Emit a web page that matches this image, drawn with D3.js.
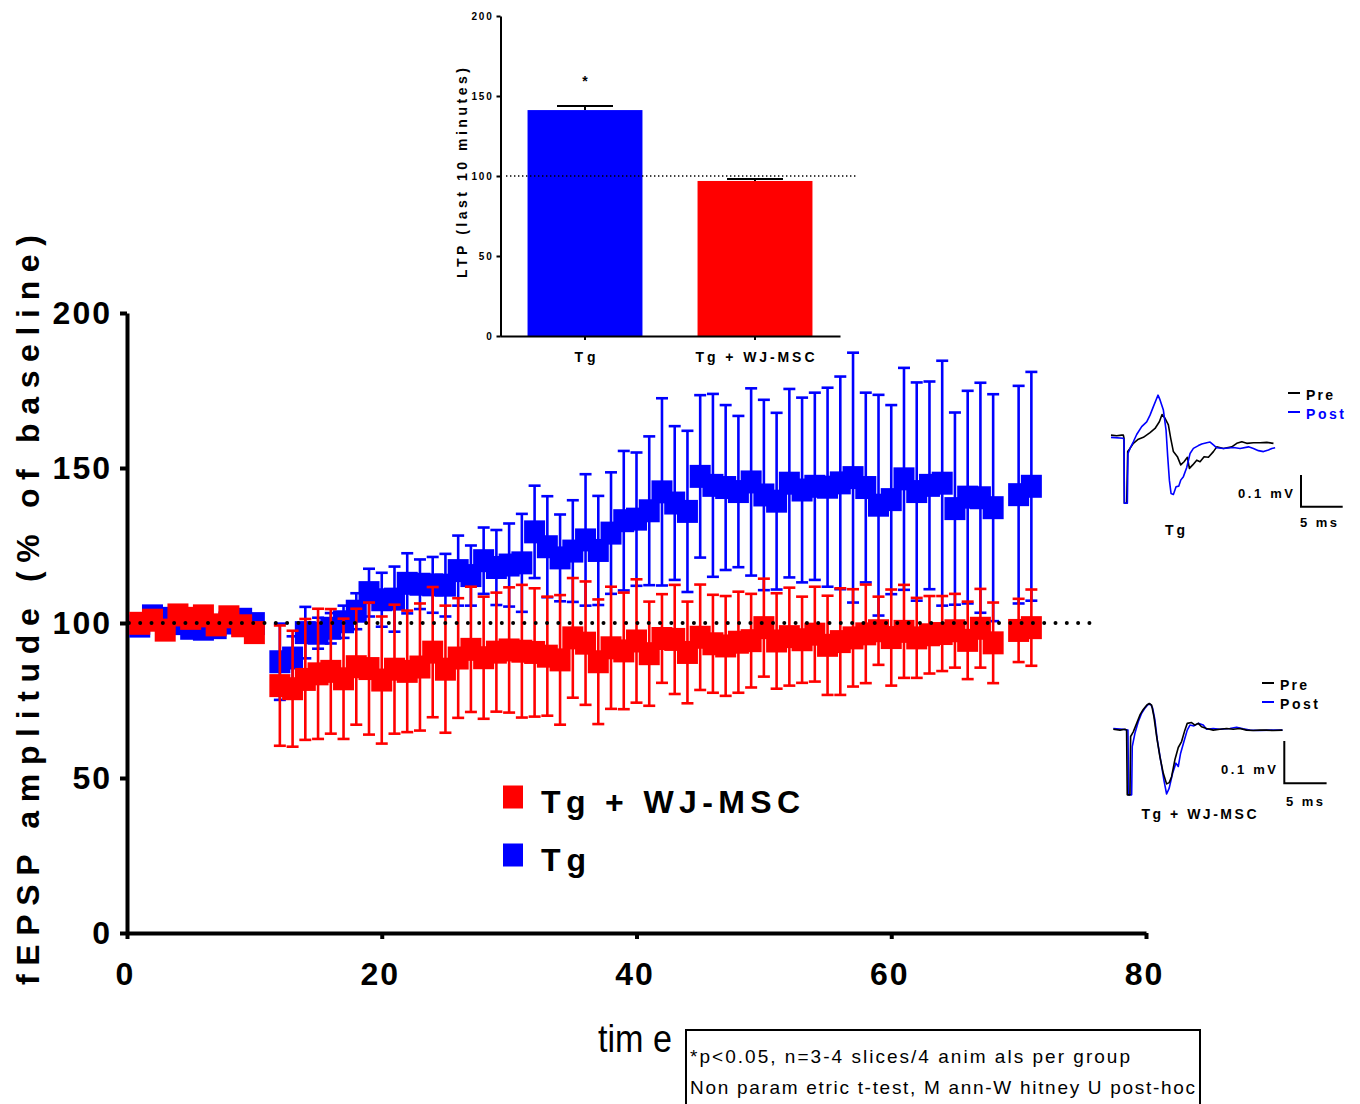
<!DOCTYPE html>
<html><head><meta charset="utf-8">
<script src="https://cdn.jsdelivr.net/npm/d3@7"></script>
<style>body{margin:0;background:#fff}svg{display:block}text{font-family:"Liberation Sans",Arial,sans-serif}</style>
</head><body><svg id="c" width="1360" height="1104"></svg>
<script>
// ---------- DATA ----------
const times = [1,2,3,4,5,6,7,8,9,10,
  12,13,14,15,16,17,18,19,20,21,22,23,24,25,26,27,28,29,30,31,32,33,34,35,36,37,38,39,40,
  41,42,43,44,45,46,47,48,49,50,51,52,53,54,55,56,57,58,59,60,61,62,63,64,65,66,67,68,70,71];
const tgMean = [99,102.3,101.5,99.8,98.3,98,98.5,100,101.2,99.8,
  87.5,88.7,96.9,96.7,98.3,100.4,103.8,109.8,107.5,107.7,112.8,112.5,112.3,112.2,116.9,115.3,120.1,117.9,118.7,119.4,
  129.4,124.6,121,123.2,126.8,123.4,129,133,133.5,136.2,142.3,138.7,136,147.3,144.4,143.7,142.4,145.5,141.3,139.3,
  145.1,142.9,144.1,143.8,145.2,146.9,143.7,138,139.8,146.5,142.4,144.4,145.1,136.9,140.6,140.4,137.2,141.4,144.1];
const tgErr = [2,2,2,2,2,2,2,2,2,2,
  12.3,7,8.3,5,4.9,5.2,5.8,7.7,8.7,10.5,9.7,8,9,10.1,11.3,9.7,10.7,12.1,13.4,15.8,
  14.9,16.3,14,16.4,21.2,17.6,19.6,22.5,21.5,24,30.2,24.8,26,26.2,29.5,26.6,24.4,30.2,30.7,28.5,
  30.4,29.8,30.2,32.1,34.3,40.3,30.6,35.6,30.5,35.8,35.2,33.5,39.5,31,34.3,37.1,36.6,35.1,36.9];
const wjMean = [99.9,100.9,97.7,102.6,101.5,102.3,99.4,102,99.1,96.9,
  79.8,78.8,81.8,83.6,84.4,82,85.9,85.3,81.6,85.1,84.4,85.8,90.6,85.1,88.7,91.5,88.8,90.6,91.3,90.9,
  90.5,89.3,88.1,95.2,93.5,87.5,92,91,94.2,90.1,95,94.7,90.5,95.4,93.3,92.6,93.8,94.3,98.5,94.2,
  95.6,94.6,96.4,92.8,94,95.2,96.5,97.5,95.3,97.3,95.2,96.2,96.6,97.5,94.4,98.3,93.6,97.6,98.5];
const wjErr = [2,2,2,2,2,2,2,2,2,2,
  19.4,18.7,19.5,21,20.1,19.4,18.7,21.3,20.5,20.8,19.6,20.5,21,20.5,19.3,20.2,19.7,19.2,20.2,21.4,
  20.7,19.2,20.9,19.3,19.9,20.1,19.7,18.8,19.9,16.8,14.3,17.6,16.4,17,15.8,16.1,16.3,15.1,15.8,15.4,
  15.8,13.9,15.3,16,17.2,15.7,15.9,11,15.5,15,12.9,12.5,12.1,11.9,12.5,12.7,13,10.2,12.3];
const mainYTicks = [0,50,100,150,200];
const mainXTicks = [0,20,40,60,80];
const baselineValue = 100;

const insetGroups = ["Tg","Tg + WJ-MSC"];
const insetMeans = [141.2,96.9];
const insetErrs = [2.5,1.2];
const insetYTicks = [0,50,100,150,200];

// traces: [ms, mV]
const tgPreTrace = [[0,0.005],[0.68,0.003],[1.28,0.005],[1.48,0.005],[1.56,-0.005],[1.6,-0.21],[1.88,-0.21],[2.0,-0.047],[2.28,-0.037],[2.68,-0.021],[3.28,-0.008],[3.88,-0.002],[4.68,0.013],[5.28,0.026],[5.8,0.047],[6.12,0.070],[6.48,0.058],[6.88,0.037],[7.16,-0.005],[7.48,-0.047],[7.96,-0.063],[8.36,-0.089],[8.76,-0.079],[9.16,-0.065],[9.4,-0.1],[9.8,-0.089],[10.28,-0.074],[10.68,-0.079],[11.16,-0.063],[11.68,-0.065],[12.28,-0.047],[12.68,-0.032],[13.48,-0.037],[14.48,-0.032],[15.08,-0.021],[15.68,-0.016],[16.28,-0.021],[17.08,-0.019],[17.88,-0.019],[18.68,-0.018],[19.48,-0.021]];
const tgPostTrace = [[0,-0.002],[1.48,-0.005],[1.56,-0.011],[1.6,-0.21],[1.96,-0.21],[2.04,-0.053],[2.28,-0.037],[2.68,-0.016],[3.08,0.007],[3.68,0.032],[4.28,0.047],[4.68,0.068],[5.08,0.095],[5.4,0.116],[5.64,0.131],[5.88,0.116],[6.28,0.084],[6.6,0.021],[6.8,-0.063],[7.0,-0.137],[7.2,-0.179],[7.48,-0.182],[7.8,-0.158],[8.12,-0.156],[8.36,-0.137],[8.68,-0.126],[9.08,-0.097],[9.48,-0.053],[9.88,-0.037],[10.48,-0.028],[10.88,-0.023],[11.48,-0.019],[11.88,-0.017],[12.28,-0.026],[12.68,-0.035],[13.48,-0.037],[14.68,-0.034],[15.48,-0.037],[16.48,-0.032],[17.08,-0.037],[17.68,-0.044],[18.28,-0.047],[18.88,-0.042],[19.28,-0.037],[19.68,-0.035]];
const wjPreTrace = [[0,0],[0.79,-0.002],[1.38,0],[1.57,-0.002],[1.65,-0.155],[1.97,-0.155],[2.05,-0.017],[2.36,-0.006],[2.76,0.014],[3.15,0.034],[3.54,0.047],[3.94,0.057],[4.25,0.061],[4.53,0.057],[4.8,0.03],[5.12,-0.017],[5.51,-0.065],[5.91,-0.104],[6.3,-0.129],[6.61,-0.126],[6.89,-0.112],[7.28,-0.072],[7.68,-0.043],[8.07,-0.029],[8.46,-0.002],[8.74,0.014],[9.25,0.016],[9.65,0.01],[10.04,0.014],[10.43,0.006],[11.02,0.002],[11.81,-0.002],[12.6,0],[13.39,0.002],[14.17,0],[14.96,0.002],[15.75,-0.002],[16.54,-0.003],[17.32,-0.002],[18.11,-0.002],[18.9,-0.003],[20,-0.002]];
const wjPostTrace = [[0,0.002],[1.18,0],[1.73,-0.002],[1.81,-0.155],[2.17,-0.155],[2.24,-0.041],[2.56,-0.009],[2.95,0.018],[3.35,0.038],[3.74,0.05],[4.13,0.059],[4.41,0.059],[4.65,0.05],[4.92,0.022],[5.2,-0.025],[5.59,-0.072],[5.98,-0.12],[6.3,-0.153],[6.61,-0.139],[7.01,-0.104],[7.4,-0.08],[7.68,-0.088],[7.95,-0.057],[8.35,-0.029],[8.74,-0.002],[9.06,0.01],[9.53,0.008],[10.04,0.014],[10.63,0.01],[11.02,0],[11.81,0.002],[12.6,0],[13.78,0.002],[14.57,0.005],[15.35,0.001],[16.14,-0.002],[17.32,-0.003],[18.5,-0.002],[20,-0.002]];

// ---------- DRAW ----------
const BLUE = "#0000ff", RED = "#ff0000";
const svg = d3.select("#c");
svg.append("rect").attr("width",1360).attr("height",1104).attr("fill","#fff");

const x = d3.scaleLinear().domain([0,80]).range([127,1146]);
const y = d3.scaleLinear().domain([0,200]).range([933,313]);

function styleAxis(g, fs, ls, lw){
  g.select(".domain").attr("stroke","#000").attr("stroke-width",lw);
  g.selectAll(".tick line").attr("stroke","#000").attr("stroke-width",lw);
  g.selectAll(".tick text").attr("fill","#000").style("font-size",fs+"px").style("font-weight","bold")
   .style("letter-spacing",ls+"px").style("font-family",'"Liberation Sans",Arial,sans-serif');
}
const gy = svg.append("g").attr("transform","translate(127,0)")
  .call(d3.axisLeft(y).tickValues(mainYTicks).tickSize(7).tickSizeOuter(0).tickPadding(8));
styleAxis(gy,32,2,4);
const gx = svg.append("g").attr("transform","translate(0,933)")
  .call(d3.axisBottom(x).tickValues(mainXTicks).tickSize(6).tickSizeOuter(0).tickPadding(23));
styleAxis(gx,32,2,4);
gx.selectAll(".tick text").attr("dx","-2px");

// series
function drawSeries(mean, err, color){
  const g = svg.append("g");
  const d = times.map((t,i)=>({t, m:mean[i], e:err[i]}));
  g.selectAll("line.v").data(d).join("line")
    .attr("x1",p=>x(p.t)).attr("x2",p=>x(p.t)).attr("y1",p=>y(p.m+p.e)).attr("y2",p=>y(p.m-p.e))
    .attr("stroke",color).attr("stroke-width",2.6);
  ["top","bot"].forEach(k=>{
    g.selectAll("line."+k).data(d).join("line")
      .attr("x1",p=>x(p.t)-6).attr("x2",p=>x(p.t)+6)
      .attr("y1",p=>y(k==="top"?p.m+p.e:p.m-p.e)).attr("y2",p=>y(k==="top"?p.m+p.e:p.m-p.e))
      .attr("stroke",color).attr("stroke-width",2.6);
  });
  g.selectAll("rect").data(d).join("rect")
    .attr("x",p=>x(p.t)-10.5).attr("y",p=>y(p.m)-11.5).attr("width",21).attr("height",23)
    .attr("fill",color);
}
drawSeries(tgMean, tgErr, BLUE);
drawSeries(wjMean, wjErr, RED);

// dotted baseline
svg.append("line").attr("x1",x(0.15)).attr("x2",x(76.3)).attr("y1",y(baselineValue)).attr("y2",y(baselineValue))
  .attr("stroke","#000").attr("stroke-width",4).attr("stroke-linecap","round").attr("stroke-dasharray","0 11.3");

// y label
svg.append("text").attr("transform","translate(39,610) rotate(-90)").attr("text-anchor","middle")
  .attr("textLength",750).attr("lengthAdjust","spacing")
  .style("font-size","32px").style("font-weight","bold").text("fEPSP amplitude (% of baseline)");

// x label
svg.append("text").attr("x",598).attr("y",1052).attr("textLength",74).attr("lengthAdjust","spacingAndGlyphs")
  .style("font-size","38px").text("tim e");

// legend
const legend = [{c:RED, label:"Tg + WJ-MSC", y:797, w:259},{c:BLUE, label:"Tg", y:855, w:45}];
legend.forEach(l=>{
  svg.append("rect").attr("x",503).attr("y",l.y-11.5).attr("width",20).attr("height",23).attr("fill",l.c);
  svg.append("text").attr("x",541).attr("y",l.y+16).attr("textLength",l.w).attr("lengthAdjust","spacing")
    .style("font-size","32px").style("font-weight","bold").text(l.label);
});

// footnote box
svg.append("rect").attr("x",686).attr("y",1030).attr("width",514).attr("height",100)
  .attr("fill","none").attr("stroke","#000").attr("stroke-width",2);
svg.append("text").attr("x",690).attr("y",1063).attr("textLength",440).attr("lengthAdjust","spacing")
  .style("font-size","19px").text("*p<0.05, n=3-4 slices/4 anim als per group");
svg.append("text").attr("x",690).attr("y",1094).attr("textLength",505).attr("lengthAdjust","spacing")
  .style("font-size","19px").text("Non param etric t-test, M ann-W hitney U post-hoc");

// ---------- INSET ----------
const xi = d3.scaleBand().domain(insetGroups).range([500,840]).paddingInner(0.324).paddingOuter(0.162);
const yi = d3.scaleLinear().domain([0,200]).range([336,16]);
const insetColors = [BLUE, RED];
svg.append("g").selectAll("rect").data(insetGroups).join("rect")
  .attr("x",g=>xi(g)).attr("width",xi.bandwidth())
  .attr("y",(g,i)=>yi(insetMeans[i])).attr("height",(g,i)=>yi(0)-yi(insetMeans[i]))
  .attr("fill",(g,i)=>insetColors[i]);
insetGroups.forEach((g,i)=>{
  const cx = xi(g)+xi.bandwidth()/2;
  svg.append("line").attr("x1",cx).attr("x2",cx).attr("y1",yi(insetMeans[i])).attr("y2",yi(insetMeans[i]+insetErrs[i]))
    .attr("stroke","#000").attr("stroke-width",2);
  svg.append("line").attr("x1",cx-28).attr("x2",cx+28).attr("y1",yi(insetMeans[i]+insetErrs[i])).attr("y2",yi(insetMeans[i]+insetErrs[i]))
    .attr("stroke","#000").attr("stroke-width",2);
});
svg.append("line").attr("x1",506).attr("x2",858).attr("y1",yi(100)).attr("y2",yi(100))
  .attr("stroke","#000").attr("stroke-width",1.3).attr("stroke-dasharray","1.4 2.6");
const giy = svg.append("g").attr("transform","translate(500.5,0)")
  .call(d3.axisLeft(yi).tickValues(insetYTicks).tickSize(4).tickSizeOuter(0).tickPadding(3));
styleAxis(giy,10,1.8,2);
const gix = svg.append("g").attr("transform","translate(0,336)")
  .call(d3.axisBottom(xi).tickSize(4).tickSizeOuter(0).tickFormat(""));
styleAxis(gix,10,1,2);
insetGroups.forEach((g,i)=>{
  svg.append("text").attr("x",xi(g)+xi.bandwidth()/2).attr("y",362).attr("text-anchor","middle")
    .attr("textLength", i===0?21:119).attr("lengthAdjust","spacing")
    .style("font-size","14px").style("font-weight","bold").text(g);
});
svg.append("text").attr("x",585).attr("y",86).attr("text-anchor","middle").style("font-size","14px").style("font-weight","bold").text("*");
svg.append("text").attr("transform","translate(467,173) rotate(-90)").attr("text-anchor","middle")
  .attr("textLength",210).attr("lengthAdjust","spacing")
  .style("font-size","14px").style("font-weight","bold").text("LTP (last 10 minutes)");

// ---------- TRACES ----------
function tracePanel(o){
  const tx = d3.scaleLinear().domain([0,5]).range([o.x0, o.x0+o.pxPer5ms]);
  const ty = d3.scaleLinear().domain([0,0.1]).range([o.y0, o.y0-o.pxPer01mV]);
  const line = d3.line().x(d=>tx(d[0])).y(d=>ty(d[1]));
  o.order.forEach(k=>{
    svg.append("path").attr("d",line(o[k].data)).attr("fill","none").attr("stroke",o[k].color)
      .attr("stroke-width",1.6).attr("stroke-linejoin","round");
  });
  const bx=o.barX, by=o.barY;
  svg.append("path").attr("d",`M${bx},${by-(ty(0)-ty(0.1))}V${by}H${bx+(tx(5)-tx(0))}`)
    .attr("fill","none").attr("stroke","#000").attr("stroke-width",2);
  const txt=(xx,yy,s,fill,anchor,len)=>{const t=svg.append("text").attr("x",xx).attr("y",yy).attr("text-anchor",anchor||"start")
    .style("font-size","14px").style("font-weight","bold").attr("fill",fill||"#000").text(s);
    if(len) t.attr("textLength",len).attr("lengthAdjust","spacing"); return t;};
  txt(o.mvX, o.mvY, "0.1 mV", "#000","start",55).style("font-size","13px");
  txt(o.msX, o.msY, "5 ms", "#000","start",37).style("font-size","13px");
  txt(o.nameX, o.nameY, o.name, "#000","middle",o.nameLen);
  svg.append("line").attr("x1",o.legX-18).attr("x2",o.legX-6).attr("y1",o.legY-7).attr("y2",o.legY-7).attr("stroke","#000").attr("stroke-width",2);
  svg.append("line").attr("x1",o.legX-18).attr("x2",o.legX-6).attr("y1",o.legY+12).attr("y2",o.legY+12).attr("stroke",BLUE).attr("stroke-width",2);
  txt(o.legX, o.legY, "Pre", "#000","start",27);
  txt(o.legX, o.legY+19, "Post", o.postLabelColor,"start",38);
}
tracePanel({x0:1111, y0:436.7, pxPer5ms:41.7, pxPer01mV:31.7,
  pre:{data:tgPreTrace,color:"#000"}, post:{data:tgPostTrace,color:BLUE}, order:["pre","post"],
  barX:1301, barY:506.7, mvX:1238, mvY:498, msX:1300, msY:527, name:"Tg", nameX:1175, nameY:535, nameLen:20,
  legX:1306, legY:400, postLabelColor:BLUE});
tracePanel({x0:1113.3, y0:729.3, pxPer5ms:42.3, pxPer01mV:42.3,
  pre:{data:wjPreTrace,color:"#000"}, post:{data:wjPostTrace,color:BLUE}, order:["post","pre"],
  barX:1284.3, barY:783.3, mvX:1221, mvY:774, msX:1286, msY:806, name:"Tg + WJ-MSC", nameX:1199, nameY:819, nameLen:115,
  legX:1280, legY:690, postLabelColor:"#000"});
</script>
</body></html>
